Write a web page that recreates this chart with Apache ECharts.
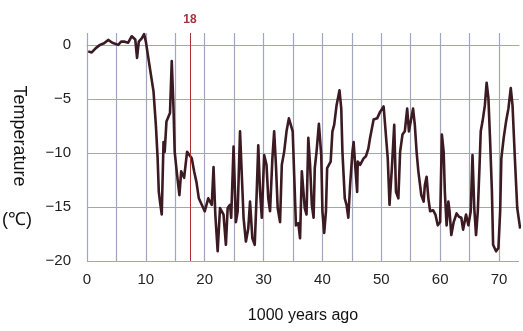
<!DOCTYPE html>
<html>
<head>
<meta charset="utf-8">
<script src="https://cdn.jsdelivr.net/npm/echarts@6/dist/echarts.min.js"></script>
<style>
  html, body { margin: 0; padding: 0; background: #fff; }
  #chart { width: 523px; height: 331px; }
</style>
</head>
<body>
<div id="chart"></div>
<script>
// 1000 years ago
var years = [
  0.2, 0.8, 1.5, 2.2, 2.9, 3.6, 4.3, 5.3, 5.8, 6.4, 7.0, 7.6, 8.2, 8.5, 8.8, 9.3, 9.7, 10.0,
  10.7, 11.3, 11.7, 12.0, 12.2, 12.4, 12.7, 13.0, 13.2, 13.5, 14.1, 14.4, 14.7, 14.9,
  15.3, 15.7, 16.0, 16.5, 17.0, 17.3, 17.8, 18.2, 18.6, 19.0, 19.5, 20.0, 20.6, 21.2,
  21.5, 21.8, 22.2, 22.6, 23.2, 23.6, 23.9, 24.3, 24.5, 24.9, 25.3, 25.6, 26.0, 26.3,
  26.6, 27.0, 27.4, 27.7, 28.1, 28.5, 28.8, 29.1, 29.4, 29.7, 30.1, 30.5, 30.8, 31.1,
  31.5, 31.8, 32.1, 32.4, 32.8, 33.1, 33.5, 33.9, 34.3, 34.6, 34.95, 35.2, 35.5, 35.9,
  36.2, 36.5, 37.0, 37.3, 37.6, 37.9, 38.2, 38.5, 38.7, 39.0, 39.4, 39.8, 40.0, 40.3,
  40.6, 40.8, 41.1, 41.4, 41.7, 42.0, 42.4, 42.7, 42.9, 43.2, 43.4, 43.8, 44.1, 44.4,
  44.7, 45.1, 45.3, 45.6, 45.9, 46.0, 46.4, 47.0, 47.4, 47.8, 48.1, 48.7, 49.3, 49.8,
  50.4, 50.7, 51.1, 51.4, 51.8, 52.2, 52.5, 52.9, 53.2, 53.6, 54.0, 54.4, 54.7, 55.2,
  55.4, 55.7, 56.0, 56.3, 56.8, 57.2, 57.4, 57.7, 58.0, 58.3, 58.8, 59.2, 59.6, 60.0,
  60.3, 60.6, 60.8, 61.1, 61.4, 61.6, 61.9, 62.3, 62.8, 63.2, 63.6, 63.9, 64.4, 64.8,
  65.2, 65.5, 65.8, 66.1, 66.4, 66.7, 66.9, 67.2, 67.6, 67.9, 68.2, 68.5, 68.8, 69.0,
  69.5, 69.9, 70.2, 70.4, 70.8, 71.2, 71.6, 72.0, 72.3, 72.7, 73.1, 73.6
];
// temperature (℃)
var temps = [
  -0.6, -0.7, -0.3, 0.0, 0.15, 0.46, 0.2, 0.0, 0.3, 0.3, 0.2, 0.8, 0.5, -1.2, 0.3, 0.6, 1.0, 0.3,
  -2.2, -4.3, -7.4, -10.5, -13.6, -14.5, -15.7, -9.0, -9.9, -7.1, -6.3, -1.5, -5.9, -9.9,
  -12.0, -13.9, -11.7, -12.3, -9.9, -9.9, -10.5, -11.7, -12.7, -14.2, -14.8, -15.4, -14.2, -14.8,
  -11.3, -15.7, -19.1, -15.1, -15.7, -18.5, -15.1, -14.8, -16.0, -9.4, -16.4, -15.4, -8.0, -12.0,
  -16.0, -18.2, -17.0, -14.5, -17.9, -18.5, -14.2, -9.3, -13.6, -16.0, -10.2, -11.1, -14.2, -15.4,
  -10.5, -8.0, -11.1, -15.1, -16.4, -11.1, -9.9, -8.0, -6.8, -6.7, -8.0, -12.0, -16.7, -16.5,
  -17.9, -11.7, -15.1, -15.7, -8.6, -11.1, -14.8, -16.0, -11.4, -9.9, -7.3, -10.2, -15.4, -17.4,
  -15.4, -11.4, -11.1, -10.8, -8.0, -7.4, -5.6, -5.6, -4.2, -5.9, -9.9, -14.2, -14.8, -16.0,
  -13.0, -9.9, -9.0, -11.4, -13.6, -10.8, -11.1, -10.5, -10.3, -9.6, -8.6, -6.9, -6.8, -6.2,
  -5.7, -5.6, -10.5, -14.8, -11.4, -7.4, -13.6, -14.2, -9.9, -8.3, -8.0, -5.9, -8.0, -6.5,
  -5.9, -7.4, -9.9, -11.7, -13.9, -14.5, -13.0, -12.2, -14.2, -15.4, -15.3, -15.7, -16.7, -16.4,
  -8.3, -9.9, -13.6, -16.7, -14.5, -15.4, -17.6, -16.4, -15.6, -15.9, -16.0, -17.1, -15.7, -16.7,
  -15.4, -10.2, -15.1, -17.6, -15.4, -11.1, -8.0, -7.1, -5.6, -3.5, -4.9, -9.0, -13.6, -18.5,
  -19.1, -18.8, -15.4, -10.5, -8.6, -7.1, -5.9, -4.0, -5.6, -10.5, -15.1, -17.0
];
var markYear = 17.5;

var points = years.map(function (x, i) { return [x, temps[i]]; });
var gridColor = '#a2a5c0';

var myChart = echarts.init(document.getElementById('chart'));
var option = {
  backgroundColor: '#fff',
  animation: false,
  grid: { left: 87, right: 4, top: 33, bottom: 70 },
  xAxis: {
    type: 'value',
    min: 0,
    max: 73.4,
    interval: 5,
    name: '1000 years ago',
    nameLocation: 'middle',
    nameGap: 47,
    nameTextStyle: { fontFamily: 'Liberation Sans', fontSize: 16, color: '#111' },
    axisLine: { show: true, lineStyle: { color: gridColor, width: 1.2 } },
    axisTick: { show: false },
    axisLabel: {
      margin: 11,
      fontFamily: 'Liberation Sans',
      fontSize: 15,
      color: '#222',
      showMaxLabel: false,
      formatter: function (v) { return v % 10 === 0 ? String(v) : ''; }
    },
    splitLine: { show: true, showMaxLine: false, lineStyle: { color: gridColor, width: 1.2 } }
  },
  yAxis: {
    type: 'value',
    min: -20,
    max: 1.1,
    interval: 5,
    axisLine: { show: false },
    axisTick: { show: false },
    axisLabel: {
      margin: 16,
      fontFamily: 'Liberation Sans',
      fontSize: 15,
      color: '#222',
      showMaxLabel: false,
      formatter: function (v) { return String(v).replace('-', '\u2212'); }
    },
    splitLine: { show: true, showMaxLine: false, lineStyle: { color: gridColor, width: 1.2 } }
  },
  graphic: [
    {
      type: 'text',
      x: 19,
      y: 136,
      rotation: -Math.PI / 2,
      style: {
        text: 'Temperature',
        font: '18px "Liberation Sans"',
        fill: '#111',
        align: 'center',
        verticalAlign: 'middle'
      }
    },
    {
      type: 'text',
      x: 17,
      y: 220,
      style: {
        text: '(℃)',
        font: '18px "Liberation Sans"',
        fill: '#111',
        align: 'center',
        verticalAlign: 'middle'
      }
    }
  ],
  series: [
    {
      type: 'line',
      data: points,
      showSymbol: false,
      lineStyle: { color: '#3b1a22', width: 2.6, join: 'round' },
      z: 3,
      markLine: {
        silent: true,
        symbol: 'none',
        animation: false,
        data: [{
          xAxis: markYear,
          lineStyle: { color: '#a8323a', width: 1, type: 'solid', opacity: 1 },
          label: {
            show: true,
            position: 'end',
            distance: 7,
            formatter: '18',
            color: '#a8323a',
            fontFamily: 'Liberation Sans',
            fontSize: 12,
            fontWeight: 'bold'
          }
        }]
      }
    }
  ]
};
myChart.setOption(option);
</script>
</body>
</html>
